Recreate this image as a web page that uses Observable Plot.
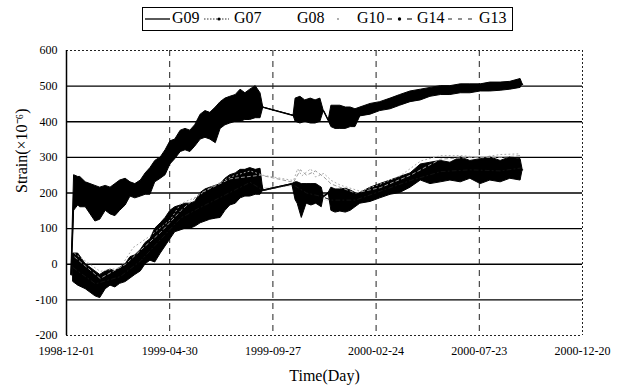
<!DOCTYPE html>
<html><head><meta charset="utf-8">
<script src="https://cdn.jsdelivr.net/npm/d3@7"></script>
<script src="https://cdn.jsdelivr.net/npm/@observablehq/plot@0.6"></script>
<style>
body{margin:0;background:#fff;font-family:"Liberation Serif","Times New Roman",serif;}
#wrap{width:622px;height:390px;position:relative;overflow:hidden;background:#fff}
#legend{position:relative;height:40px;width:622px}
#legend .box{position:absolute;left:142px;top:7px;width:371px;height:24px;border:1px solid #000;box-sizing:border-box}
#legend .t{position:absolute;top:9px;font-size:16px;line-height:18px;color:#000;font-family:"Liberation Serif",serif}
#legend svg.sw{position:absolute;top:14px}
</style></head><body>
<div id="wrap">
<div id="legend"></div>
<div id="chart"></div>
</div>
<script>
// ---- data (day offsets from 1998-12-01, values in microstrain) ----
const startDate = "1998-12-01";
const seriesNames = ["G09","G07","G08","G10","G14","G13"];
const xTickLabels = ["1998-12-01","1999-04-30","1999-09-27","2000-02-24","2000-07-23","2000-12-20"];
const yTicks = [-200,-100,0,100,200,300,400,500,600];

// G09 : upper band (daily min / max)
const g09Day  = [7,11,17,20,28,35,42,49,57,64,71,78,86,93,100,108,115,122,129,137,144,151,158,166,173,180,187,195,202,209,217,224,231,238,246,253,260,267,275,282,286,330,333,340,347,355,362,369,374,381,385,391,398,406,413,420,427,442,456,471,485,500,515,529,544,558,573,587,602,616,631,645,660,663];
const g09Low  = [-30,150,165,160,160,140,120,125,150,140,135,150,165,190,185,190,195,195,230,240,250,280,295,315,320,315,330,350,355,350,340,380,390,395,400,400,405,405,410,410,440,417,400,395,400,395,395,400,430,403,385,380,380,380,385,385,415,420,430,435,445,455,460,470,475,475,480,480,485,485,487,490,495,505];
const g09High = [-30,250,245,245,230,225,220,215,220,215,225,235,240,230,225,235,255,270,290,300,320,345,350,375,380,375,390,420,430,425,440,455,465,470,475,490,480,490,500,480,440,417,465,470,460,465,460,465,430,403,445,445,445,440,440,435,440,450,455,465,475,485,490,495,500,500,505,505,505,510,510,512,520,505];

// G07 : lower band (daily min / max)
const g07Day  = [10,17,28,35,42,49,57,64,71,78,86,93,100,108,115,122,129,137,144,151,158,166,173,180,187,195,202,209,217,224,231,238,246,253,260,267,275,282,286,328,333,336,342,349,356,363,371,374,381,385,391,398,406,413,420,427,442,456,471,485,500,515,529,544,558,573,587,602,616,631,645,660,663];
const g07Low  = [-50,-60,-70,-80,-90,-95,-70,-60,-65,-55,-50,-40,-30,-20,0,10,5,30,50,70,90,95,100,100,105,115,120,125,128,130,150,165,170,185,190,190,195,195,207,225,180,170,130,170,165,170,160,190,200,150,145,148,145,150,160,170,175,185,195,200,215,235,225,230,235,230,240,225,235,230,240,235,265];
const g07High = [30,30,0,-10,-20,-30,-20,-15,-20,-10,0,20,25,40,60,70,100,115,130,150,160,165,170,170,175,200,210,215,220,225,240,250,255,265,265,270,265,268,207,225,230,230,225,225,225,225,215,190,200,215,210,210,212,207,200,200,215,225,235,245,255,280,285,290,285,300,290,295,300,290,300,295,265];

// G10 : light dotted
const g10Day   = [12,49,78,97,122,137,151,166,190,209,238,267,285,330,336,342,355,362,374,385,398,427,456,485,515,544,573,602,631,660];
const g10Value = [30,-20,-10,47,80,103,125,170,190,215,245,262,250,235,268,248,268,245,255,235,222,205,225,248,290,305,305,300,308,310];

// G13 : grey dashed
const g13Day   = [12,49,86,108,137,166,195,238,282,330,340,349,362,374,385,420,456,500,544,587,631,660];
const g13Value = [20,-40,0,40,90,150,200,240,250,230,265,250,262,245,225,200,215,250,295,300,300,305];

// G14 : dark dash-dot
const g14Day   = [10,42,78,108,137,166,195,231,267,286,328,349,371,385,420,456,500,544,587,631,660];
const g14Value = [-10,-55,-35,10,70,130,160,195,230,207,225,200,190,180,180,205,235,260,265,262,270];

// G08 : very light
const g08Day   = [10,49,86,122,166,209,253,286,328,356,385,427,471,515,558,602,645,660];
const g08Value = [0,-50,-30,30,120,170,220,215,220,195,175,190,215,255,260,265,270,272];

// ---- build tables ----
const t0 = new Date(startDate + "T00:00:00Z");
const toDate = d => d3.utcDay.offset(t0, d);
const band = (days, lo, hi) => days.map((d,i) => ({date: toDate(d), lo: lo[i], hi: hi[i], mid: (lo[i]+hi[i])/2}));
const line = (days, v) => days.map((d,i) => ({date: toDate(d), v: v[i]}));
const g09 = band(g09Day, g09Low, g09High);
const g07 = band(g07Day, g07Low, g07High);
const g10 = line(g10Day, g10Value);
const g13 = line(g13Day, g13Value);
const g14 = line(g14Day, g14Value);
const g08 = line(g08Day, g08Value);
const xTicks = xTickLabels.map(s => new Date(s + "T00:00:00Z"));
const x0 = xTicks[0], x1 = xTicks[xTicks.length-1];
const serif = '"Liberation Serif","Times New Roman",serif';

const chart = Plot.plot({
  width: 622, height: 350,
  marginTop: 10, marginBottom: 55, marginLeft: 66, marginRight: 40,
  style: {fontFamily: serif, fontSize: "12px", color: "#000", background: "#fff"},
  x: {type: "utc", domain: [x0, x1]},
  y: {domain: [-200, 600]},
  marks: [
    Plot.gridY(yTicks.slice(1, -1), {stroke: "#000", strokeOpacity: 1, strokeWidth: 1.3}),
    Plot.gridX(xTicks.slice(1, -1), {stroke: "#222", strokeOpacity: 1, strokeDasharray: "6,5", strokeWidth: 1}),
    Plot.ruleY([600, -200], {stroke: "#222", strokeDasharray: "2,2", strokeWidth: 1}),
    Plot.ruleX([x1], {stroke: "#222", strokeDasharray: "2,2", strokeWidth: 1}),
    Plot.ruleX([x0], {stroke: "#000", strokeWidth: 1.5}),
    Plot.line(g08, {x: "date", y: "v", stroke: "#e6e6e6", strokeWidth: 1}),
    Plot.areaY(g07, {x: "date", y1: "lo", y2: "hi", fill: "#000", stroke: "#000", strokeWidth: 1}),
    Plot.line(g07, {x: "date", y: "mid", stroke: "#000", strokeWidth: 1.2}),
    Plot.line(g14, {x: "date", y: "v", stroke: "#111", strokeWidth: 1, strokeDasharray: "4,3,1,3"}),
    Plot.areaY(g09, {x: "date", y1: "lo", y2: "hi", fill: "#000", stroke: "#000", strokeWidth: 1}),
    Plot.line(g09, {x: "date", y: "mid", stroke: "#000", strokeWidth: 1.2}),
    Plot.line(g10, {x: "date", y: "v", stroke: "#aaa", strokeWidth: 1, strokeDasharray: "1,3"}),
    Plot.line(g13, {x: "date", y: "v", stroke: "#999", strokeWidth: 1, strokeDasharray: "3,3"}),
    Plot.axisY({ticks: yTicks, tickFormat: d => String(d), tickSize: 0, tickPadding: 9, label: null, fontSize: 12, fontFamily: serif}),
    Plot.axisX({ticks: xTicks, tickFormat: d3.utcFormat("%Y-%m-%d"), tickSize: 0, tickPadding: 11, label: null, fontSize: 12, fontFamily: serif}),
    Plot.text(["Strain(×10⁻⁶)"], {frameAnchor: "left", rotate: -90, dx: -45, fontSize: 16, fontFamily: serif}),
    Plot.text(["Time(Day)"], {frameAnchor: "bottom", dy: 45, fontSize: 16, fontFamily: serif})
  ]
});
document.getElementById("chart").appendChild(chart);

// ---- legend ----
const legendSpec = [
  {name: "G09", sw: 145, tx: 172, draw: '<line x1="0" y1="5" x2="25" y2="5" stroke="#000" stroke-width="1.3"/>'},
  {name: "G07", sw: 204, tx: 234, draw: '<line x1="0" y1="5" x2="25" y2="5" stroke="#333" stroke-width="1" stroke-dasharray="1.5,1.5"/><circle cx="15" cy="5" r="1.6" fill="#000"/>'},
  {name: "G08", sw: 266, tx: 297, draw: ''},
  {name: "G10", sw: 330, tx: 357, draw: '<circle cx="8" cy="5" r="0.9" fill="#888"/>'},
  {name: "G14", sw: 387, tx: 417, draw: '<line x1="0" y1="5" x2="5" y2="5" stroke="#222" stroke-width="1.2"/><circle cx="12.5" cy="5" r="1.7" fill="#000"/><line x1="20" y1="5" x2="25" y2="5" stroke="#222" stroke-width="1.2"/>'},
  {name: "G13", sw: 448, tx: 479, draw: '<line x1="0" y1="5" x2="27" y2="5" stroke="#222" stroke-width="1.2" stroke-dasharray="4,6"/>'}
];
const lg = document.getElementById("legend");
lg.innerHTML = '<div class="box"></div>' + legendSpec.map(s =>
  `<svg class="sw" width="28" height="10" style="left:${s.sw}px">${s.draw}</svg><span class="t" style="left:${s.tx}px">${s.name}</span>`
).join("");
</script>
</body></html>
